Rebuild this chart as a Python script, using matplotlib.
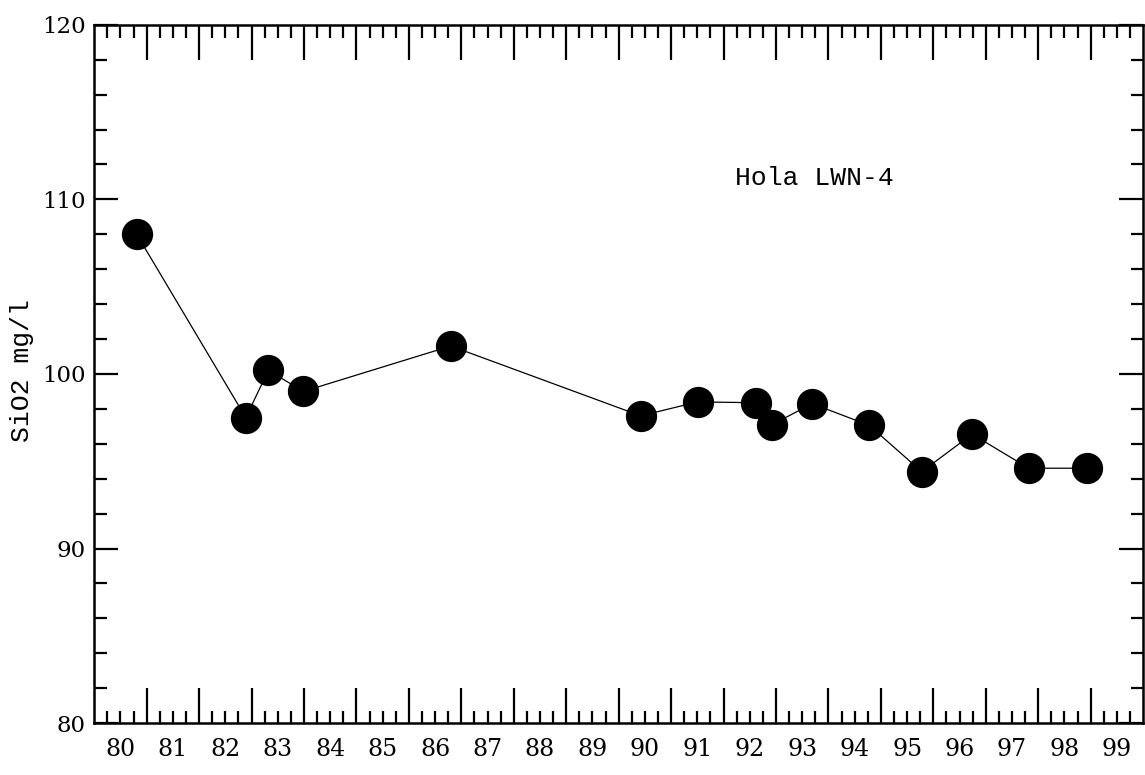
import matplotlib
matplotlib.use("Agg")
import matplotlib.pyplot as plt
from matplotlib.ticker import FixedLocator, FixedFormatter, NullFormatter

# Data (year as 19xx fraction, SiO2 in mg/l)
years = [80.81, 82.89, 83.32, 83.99, 86.80, 90.42, 91.51, 92.61, 92.93,
         93.69, 94.78, 95.78, 96.74, 97.82, 98.93]
sio2 = [108.0, 97.5, 100.2, 99.0, 101.6, 97.6, 98.4, 98.35, 97.1,
        98.3, 97.05, 94.4, 96.55, 94.6, 94.6]

year_labels = [str(y) for y in range(80, 100)]
y_ticks = [80, 90, 100, 110, 120]
title_text = "Hola LWN-4"
y_label = "SiO2 mg/l"

fig = plt.figure(figsize=(11.45, 7.75), dpi=100)
ax = fig.add_axes([0.0823, 0.067, 0.9160, 0.901])

ax.plot(years, sio2, color="black", lw=0.9, marker="o", markersize=21.5,
        markerfacecolor="black", markeredgecolor="black", zorder=3)

ax.set_xlim(80, 100)
ax.set_ylim(80, 120)

# x axis: long ticks at year boundaries, short quarter ticks, labels mid-year
major_x = list(range(81, 100))
minor_x = []
minor_lab = []
for i, lab in enumerate(year_labels):
    base = 80 + i
    for q, txt in ((0.25, ""), (0.5, lab), (0.75, "")):
        minor_x.append(base + q)
        minor_lab.append(txt)
ax.xaxis.set_major_locator(FixedLocator(major_x))
ax.xaxis.set_major_formatter(NullFormatter())
ax.xaxis.set_minor_locator(FixedLocator(minor_x))
ax.xaxis.set_minor_formatter(FixedFormatter(minor_lab))

ax.yaxis.set_major_locator(FixedLocator(y_ticks))
ax.set_yticklabels([str(v) for v in y_ticks])
ax.yaxis.set_minor_locator(FixedLocator([v for v in range(80, 121, 2) if v % 10]))

serif = ["DejaVu Serif"]
ax.tick_params(axis="x", which="major", direction="in", length=25, width=1.6,
               top=True, bottom=True)
ax.tick_params(axis="x", which="minor", direction="in", length=9, width=1.6,
               top=True, bottom=True, pad=11, labelsize=17)
ax.tick_params(axis="y", which="major", direction="in", length=17, width=1.6,
               left=True, right=True, pad=6, labelsize=16.5)
ax.tick_params(axis="y", which="minor", direction="in", length=9, width=1.6,
               left=True, right=True)
for lab in ax.get_xticklabels(minor=True) + ax.get_yticklabels():
    lab.set_family(serif)

for sp in ax.spines.values():
    sp.set_linewidth(1.8)

ax.text(92.22, 110.8, title_text, family="Liberation Mono", fontsize=19,
        va="baseline", ha="left")
ax.set_ylabel(y_label, family="Liberation Mono", fontsize=19,
              va="center", ha="center")
ax.yaxis.set_label_coords(-0.069, 0.505)

fig.savefig("out.png", dpi=100)
